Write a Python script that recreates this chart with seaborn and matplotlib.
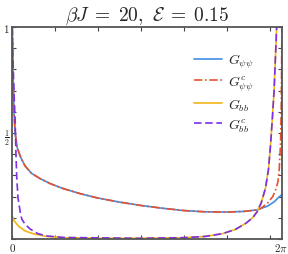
import numpy as np
import pandas as pd
import matplotlib
matplotlib.use("Agg")
import matplotlib.pyplot as plt
import seaborn as sns

# values (x in [0, 2pi])
x_psi = [0.005, 0.02, 0.04, 0.07, 0.12, 0.2, 0.3, 0.45, 0.65, 0.9, 1.2, 1.6,
         2.0, 2.5, 3.0, 3.5, 4.0, 4.5, 5.0, 5.4, 5.7]
g_psi = [1.0, 0.80, 0.62, 0.50, 0.43, 0.385, 0.345, 0.31, 0.285, 0.26, 0.237,
         0.213, 0.193, 0.174, 0.158, 0.145, 0.134, 0.128, 0.127, 0.13, 0.137]
x_psi_tail = [5.95, 6.1, 6.2, 6.283]
g_psi_tail = [0.155, 0.175, 0.195, 0.21]
x_psic_tail = [5.8, 5.95, 6.07, 6.15, 6.19, 6.22, 6.25, 6.265, 6.275, 6.283]
g_psic_tail = [0.145, 0.17, 0.2, 0.24, 0.27, 0.33, 0.45, 0.6, 0.8, 1.0]

x_bb = [0.0, 0.05, 0.15, 0.3, 0.5, 0.8, 1.2, 2.0, 3.0, 4.0, 4.5, 4.9, 5.2,
        5.45, 5.6, 5.7, 5.8, 5.9, 5.97, 6.02, 6.06, 6.1, 6.13, 6.16]
g_bb = [0.11, 0.085, 0.06, 0.038, 0.024, 0.012, 0.006, 0.003, 0.003, 0.006,
        0.012, 0.025, 0.045, 0.075, 0.1, 0.127, 0.17, 0.24, 0.33, 0.45, 0.57,
        0.7, 0.85, 1.0]
x_bbc_head = [0.0, 0.02, 0.05, 0.07, 0.09, 0.11, 0.14, 0.19, 0.225, 0.3, 0.42,
              0.6, 0.81, 1.2]
g_bbc_head = [1.0, 0.85, 0.66, 0.57, 0.40, 0.28, 0.19, 0.127, 0.094, 0.07,
              0.047, 0.025, 0.014, 0.007]

labels = [r"$G_{\psi\psi}$", r"$G^c_{\psi\psi}$", r"$G_{bb}$", r"$G^c_{bb}$"]
colors = ["#3f8fe6", "#e8512b", "#f2b416", "#7b2fe6"]

curves = [
    (x_psi + x_psi_tail, g_psi + g_psi_tail),
    (x_psi + x_psic_tail, g_psi + g_psic_tail),
    (x_bb, g_bb),
    (x_bbc_head + x_bb[8:], g_bbc_head + g_bb[8:]),
]
styles = ["-", (0, (5, 1.6, 1, 1.6)), "-", (0, (4.5, 2.2))]

sns.set_style("ticks")
plt.rcParams["mathtext.fontset"] = "cm"
plt.rcParams["font.family"] = ["DejaVu Serif"]

fig = plt.figure(figsize=(2.88, 2.55), dpi=100)
ax = fig.add_axes([0.042, 0.059, 0.937, 0.831])

for (xs, ys), lab, col, ls in zip(curves, labels, colors, styles):
    df = pd.DataFrame({"x": xs, "y": ys})
    sns.lineplot(data=df, x="x", y="y", ax=ax, color=col, linestyle=ls,
                 linewidth=1.2, label=lab, sort=False)

ax.set_xlim(0, 2 * np.pi)
ax.set_ylim(0, 1)
ax.set_xticks([0, 1, 2, 3, 4, 5, 6])
ax.set_xticklabels(["$0$", "", "", "", "", "", ""])
ax.text(6.25, -0.012, r"$2\pi$", ha="center", va="top", fontsize=8,
        transform=ax.transData)
ax.set_yticks(np.arange(0, 1.01, 0.1))
ylab = [""] * 11
ylab[5] = r"$\frac{1}{2}$"
ylab[10] = "$1$"
ax.set_yticklabels(ylab)
ax.tick_params(direction="in", top=True, right=True, length=3, width=0.8,
               labelsize=8, pad=1.5, color="#444444")
for s in ax.spines.values():
    s.set_linewidth(1.3)
    s.set_color("#555555")
ax.set_xlabel("")
ax.set_ylabel("")
ax.set_title(r"$\beta J\;=\;20,\ \mathcal{E}\;=\;0.15$", fontsize=14, pad=5)

leg = ax.legend(loc="upper left", bbox_to_anchor=(0.655, 0.91), frameon=False,
                fontsize=10, handlelength=2.0, labelspacing=0.25,
                borderaxespad=0, handletextpad=0.4)

fig.savefig("out.png", dpi=100)
